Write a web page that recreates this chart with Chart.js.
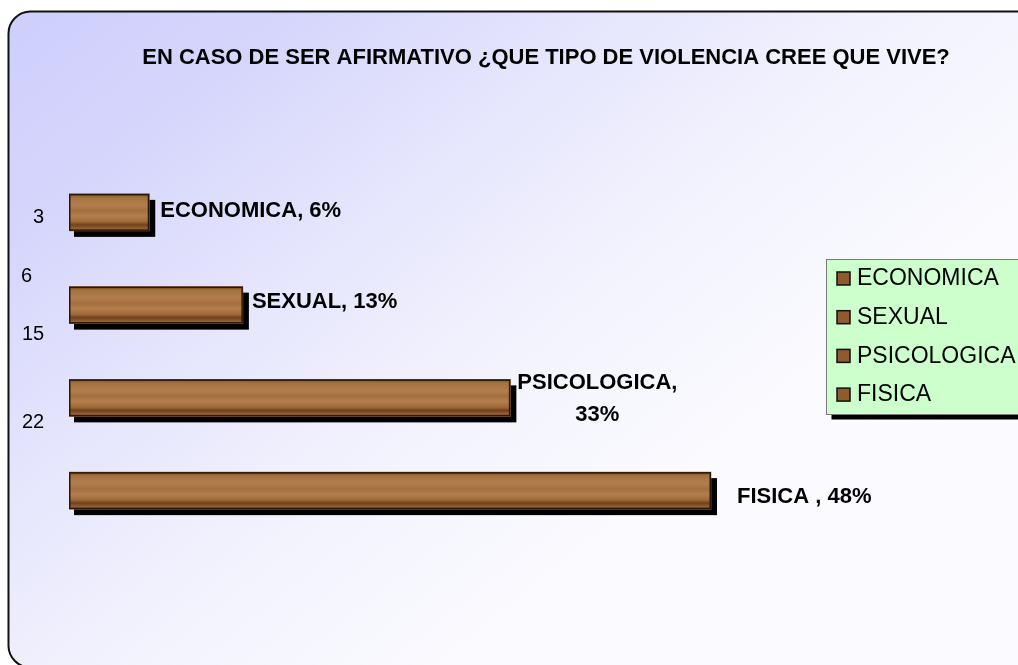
<!DOCTYPE html>
<html>
<head>
<meta charset="utf-8">
<script src="https://cdn.jsdelivr.net/npm/chart.js@4/dist/chart.umd.min.js"></script>
<style>
  body { margin: 0; background: #ffffff; }
  canvas { display: block; }
</style>
</head>
<body>
<canvas id="violenceChart" width="1018" height="665"></canvas>
<script>
// datos del gráfico
const chartTitle = 'EN CASO DE SER AFIRMATIVO ¿QUE TIPO DE VIOLENCIA CREE QUE VIVE?';
const categories = ['ECONOMICA', 'SEXUAL', 'PSICOLOGICA', 'FISICA'];
const percents = [6, 13, 33, 48];
const counts = [3, 6, 15, 22];
const barLabels = [['ECONOMICA, 6%'], ['SEXUAL, 13%'], ['PSICOLOGICA,', '33%'], ['FISICA , 48%']];

const FONT = '"Liberation Sans", Arial, sans-serif';

// fondo con borde redondeado y degradado
const backgroundPlugin = {
    id: 'fondo',
    beforeDraw(chart) {
        const c = chart.ctx;
        c.save();
        const g = c.createLinearGradient(60, 0, 560, 620);
        g.addColorStop(0, '#cfcffc');
        g.addColorStop(0.2, '#d6d6fc');
        g.addColorStop(0.45, '#e6e6fd');
        g.addColorStop(0.7, '#f3f3fe');
        g.addColorStop(1, '#fbfbff');
        c.beginPath();
        c.roundRect(8.5, 11.5, 1040, 656, 22);
        c.fillStyle = g;
        c.fill();
        c.lineWidth = 2;
        c.strokeStyle = '#111111';
        c.stroke();
        // título
        c.fillStyle = '#000000';
        c.font = 'bold 22px ' + FONT;
        c.textAlign = 'center';
        c.textBaseline = 'middle';
        c.fillText(chartTitle, 546, 58);
        c.restore();
    }
};

// sombra negra detrás de cada barra
const shadowPlugin = {
    id: 'sombra',
    beforeDatasetsDraw(chart) {
        const c = chart.ctx;
        const meta = chart.getDatasetMeta(0);
        c.save();
        c.fillStyle = '#000000';
        meta.data.forEach(bar => {
            const p = bar.getProps(['x', 'y', 'base', 'height'], true);
            c.fillRect(p.base + 5, p.y - p.height / 2 + 6, p.x - p.base + 1, p.height);
        });
        c.restore();
    },
    afterDatasetsDraw(chart) {
        // textura de madera (degradado) y borde
        const c = chart.ctx;
        const meta = chart.getDatasetMeta(0);
        c.save();
        meta.data.forEach(bar => {
            const p = bar.getProps(['x', 'y', 'base', 'height'], true);
            const top = p.y - p.height / 2;
            const g = c.createLinearGradient(0, top, 0, top + p.height);
            g.addColorStop(0, '#7e5028');
            g.addColorStop(0.1, '#a4713f');
            g.addColorStop(0.3, '#b27e4d');
            g.addColorStop(0.45, '#a46f3f');
            g.addColorStop(0.6, '#b47f4c');
            g.addColorStop(0.75, '#9e6838');
            g.addColorStop(0.84, '#6e421c');
            g.addColorStop(0.92, '#8e5b2f');
            g.addColorStop(1, '#a06a3a');
            c.fillStyle = g;
            c.fillRect(p.base, top, p.x - p.base, p.height);
            c.lineWidth = 1.5;
            c.strokeStyle = '#2a1606';
            c.strokeRect(p.base + 0.75, top + 0.75, p.x - p.base - 1.5, p.height - 1.5);
        });
        c.restore();
    }
};

// etiquetas de datos y conteos a la izquierda
const labelsPlugin = {
    id: 'etiquetas',
    afterDatasetsDraw(chart, args, opts) {
        const c = chart.ctx;
        const meta = chart.getDatasetMeta(0);
        c.save();
        c.fillStyle = '#000000';
        c.textBaseline = 'middle';
        c.font = 'bold 22px ' + FONT;
        meta.data.forEach((bar, i) => {
            const p = bar.getProps(['x', 'y'], true);
            const lines = barLabels[i];
            const off = opts.labelOffsets[i];
            if (lines.length > 1) {
                c.textAlign = 'center';
                lines.forEach((t, k) => c.fillText(t, p.x + off[0], p.y + off[1] + k * 32));
            } else {
                c.textAlign = 'left';
                c.fillText(lines[0], p.x + off[0], p.y + off[1]);
            }
        });
        // conteos (desalineados como en el original)
        const yScale = chart.scales.y;
        c.font = '20px ' + FONT;
        c.textAlign = 'left';
        counts.forEach((n, i) => {
            c.fillText(String(n), opts.countX[i], yScale.getPixelForValue(opts.countPos[i]));
        });
        c.restore();
    }
};

// leyenda con fondo verde
const legendPlugin = {
    id: 'leyenda',
    afterDraw(chart) {
        const c = chart.ctx;
        const x = 826.5, y = 259.5, w = 220, h = 155;
        c.save();
        c.fillStyle = '#000000';
        c.fillRect(x + 5, y + 5, w, h);
        c.fillStyle = '#ccffcc';
        c.fillRect(x, y, w, h);
        c.lineWidth = 1;
        c.strokeStyle = '#7a7a7a';
        c.strokeRect(x, y, w, h);
        c.font = '23px ' + FONT;
        c.textBaseline = 'middle';
        c.textAlign = 'left';
        categories.forEach((cat, i) => {
            const cy = 278 + i * 38.7;
            c.fillStyle = '#8e5a2e';
            c.fillRect(837, cy - 6, 13, 13);
            c.lineWidth = 1.5;
            c.strokeStyle = '#111111';
            c.strokeRect(837, cy - 6, 13, 13);
            c.fillStyle = '#000000';
            c.fillText(cat, 857, cy + 1);
        });
        c.restore();
    }
};

const ctx = document.getElementById('violenceChart').getContext('2d');

const violenceChart = new Chart(ctx, {
    type: 'bar',
    data: {
        labels: categories,
        datasets: [{
            label: 'Violencia',
            data: percents,
            backgroundColor: '#9c6a3c',
            borderWidth: 0,
            barThickness: 37
        }]
    },
    options: {
        indexAxis: 'y',
        responsive: false,
        animation: false,
        devicePixelRatio: 1,
        layout: {
            padding: { left: 69, top: 166, bottom: 128, right: 200 }
        },
        scales: {
            x: { display: false, min: 0, max: 56 },
            y: { display: false }
        },
        plugins: {
            legend: { display: false },
            tooltip: { enabled: false },
            etiquetas: {
                labelOffsets: [[11, -1], [9, -3], [87, -15], [26, 6]],
                countX: [33, 21, 22, 22],
                countPos: [0.05, 0.69, 1.32, 2.27]
            }
        }
    },
    plugins: [backgroundPlugin, shadowPlugin, labelsPlugin, legendPlugin]
});
</script>
</body>
</html>
